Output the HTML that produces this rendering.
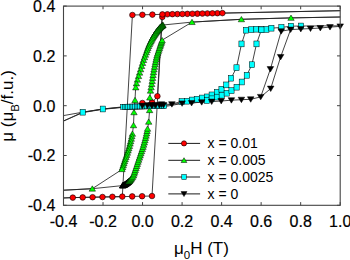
<!DOCTYPE html>
<html><head><meta charset="utf-8"><style>
html,body{margin:0;padding:0;background:#fff;width:350px;height:260px;overflow:hidden}
svg{display:block}
text{font-family:"Liberation Sans",sans-serif}
</style></head><body><svg width="350" height="260" viewBox="0 0 350 260"><defs><clipPath id="c"><rect x="63.5" y="6.1" width="276.7" height="199.20000000000002"/></clipPath></defs><g clip-path="url(#c)"><polyline points="345.00,10.60 222.40,13.11 217.40,13.21 212.40,13.32 207.40,13.43 202.40,13.53 197.40,13.63 192.40,13.74 187.40,13.85 182.40,13.95 177.40,14.05 172.40,14.16 167.40,14.27 162.40,14.37 152.40,14.58 142.40,14.79 132.40,15.00 122.30,196.61 112.40,196.81 102.50,197.01 92.60,197.20 82.70,197.40 72.80,197.60 60.00,198.10" fill="none" stroke="#222" stroke-width="0.85" stroke-linejoin="round"/><polyline points="60.00,198.10 72.80,197.60 82.70,197.40 92.60,197.20 102.50,197.01 112.40,196.81 122.30,196.61 132.20,196.41 142.10,196.21 152.00,196.02 162.40,14.37 167.40,14.27 172.40,14.16 177.40,14.05 182.40,13.95 187.40,13.85 192.40,13.74 197.40,13.63 202.40,13.53 207.40,13.43 212.40,13.32 217.40,13.21 222.40,13.11 345.00,10.60" fill="none" stroke="#222" stroke-width="0.85" stroke-linejoin="round"/><polyline points="142.40,103.00 152.20,102.60 157.40,96.20 162.20,14.60" fill="none" stroke="#222" stroke-width="0.85" stroke-linejoin="round"/><polyline points="345.00,16.90 340.20,17.00 291.00,17.90 241.40,19.30 192.00,22.10 163.00,25.00 160.40,27.00 156.00,32.30 152.50,38.00 149.00,45.00 147.30,49.60 143.50,60.00 139.70,72.30 136.60,82.50 135.60,88.50 135.00,100.20 134.00,112.30 133.50,125.30 132.40,133.80 131.00,140.00 129.00,147.70 127.00,154.00 124.80,160.40 121.90,169.50 92.30,188.70 60.00,190.40" fill="none" stroke="#222" stroke-width="0.85" stroke-linejoin="round"/><polyline points="60.00,190.40 92.30,188.70 122.50,185.60 125.00,184.40 128.00,182.20 130.50,179.80 133.30,176.00 136.00,168.00 138.50,160.40 142.80,147.70 145.00,140.00 146.50,134.00 147.80,127.50 148.70,121.80 149.60,110.20 149.80,97.60 150.50,90.70 151.80,83.50 153.50,72.00 155.50,62.00 157.00,55.50 158.80,50.20 160.50,45.00 162.20,40.10 192.00,22.10 241.40,19.30 291.00,17.90 340.20,17.00 345.00,16.90" fill="none" stroke="#222" stroke-width="0.85" stroke-linejoin="round"/><polyline points="60.00,116.20 82.70,112.20 102.80,109.00 123.30,106.80 125.00,106.77 126.70,106.73 128.40,106.70 130.10,106.66 131.80,106.63 133.50,106.60 135.20,106.56 136.90,106.53 138.60,106.49 140.30,106.46 142.00,106.43 143.70,106.39 145.40,106.36 147.10,106.32 148.80,106.29 150.50,106.26 152.20,106.22 153.90,106.19 155.60,106.15 157.30,106.12 159.00,106.09 160.70,106.05 162.40,106.02 164.10,105.98 181.70,101.50 186.90,101.20 192.00,100.00 196.80,99.20 202.00,98.00 206.90,96.90 211.70,94.90 216.90,92.30 221.50,89.20 226.30,84.90 231.10,78.20 236.50,67.70 241.50,43.90 246.00,30.20 251.40,29.60 256.40,29.20 261.40,29.60 266.40,29.40 271.40,28.20 281.40,27.40 291.00,26.20 301.00,26.00 345.00,25.80" fill="none" stroke="#222" stroke-width="0.85" stroke-linejoin="round"/><polyline points="60.00,122.60 82.70,112.60 102.80,109.30 120.50,107.60 165.00,106.50 182.00,103.50 192.00,102.50 201.00,101.30 206.90,100.50 211.70,98.80 216.90,97.10 221.70,95.20 226.70,93.20 231.50,90.60 236.60,87.20 241.80,82.00 246.80,75.30 251.90,64.70 256.50,43.90 261.40,29.80" fill="none" stroke="#222" stroke-width="0.85" stroke-linejoin="round"/><polyline points="60.00,122.60 82.70,112.20 102.80,109.00 122.60,107.20 142.40,105.70 152.20,105.30 161.50,104.30 171.90,104.20 182.10,103.40 191.60,103.00 201.70,102.20 211.70,101.60 221.20,101.00 231.40,100.20 241.40,99.70 250.70,99.30 260.70,96.90 270.40,69.10 281.20,31.20 290.60,29.60" fill="none" stroke="#222" stroke-width="0.85" stroke-linejoin="round"/><polyline points="260.70,96.90 270.70,88.60 280.60,57.00 290.60,29.60 300.80,29.00 310.50,28.60 320.30,28.00 330.00,27.10 340.20,26.40" fill="none" stroke="#222" stroke-width="0.85" stroke-linejoin="round"/></g><g><circle cx="162.30" cy="17.00" r="2.8" fill="#ff0000" stroke="#000" stroke-width="0.6"/><circle cx="167.40" cy="14.27" r="2.8" fill="#ff0000" stroke="#000" stroke-width="0.6"/><circle cx="177.40" cy="14.05" r="2.8" fill="#ff0000" stroke="#000" stroke-width="0.6"/><circle cx="187.40" cy="13.85" r="2.8" fill="#ff0000" stroke="#000" stroke-width="0.6"/><circle cx="197.40" cy="13.63" r="2.8" fill="#ff0000" stroke="#000" stroke-width="0.6"/><circle cx="207.40" cy="13.43" r="2.8" fill="#ff0000" stroke="#000" stroke-width="0.6"/><circle cx="217.40" cy="13.21" r="2.8" fill="#ff0000" stroke="#000" stroke-width="0.6"/><circle cx="132.40" cy="15.00" r="2.8" fill="#ff0000" stroke="#000" stroke-width="0.6"/><circle cx="142.40" cy="14.79" r="2.8" fill="#ff0000" stroke="#000" stroke-width="0.6"/><circle cx="152.40" cy="14.58" r="2.8" fill="#ff0000" stroke="#000" stroke-width="0.6"/><circle cx="162.40" cy="14.37" r="2.8" fill="#ff0000" stroke="#000" stroke-width="0.6"/><circle cx="172.40" cy="14.16" r="2.8" fill="#ff0000" stroke="#000" stroke-width="0.6"/><circle cx="182.40" cy="13.95" r="2.8" fill="#ff0000" stroke="#000" stroke-width="0.6"/><circle cx="192.40" cy="13.74" r="2.8" fill="#ff0000" stroke="#000" stroke-width="0.6"/><circle cx="202.40" cy="13.53" r="2.8" fill="#ff0000" stroke="#000" stroke-width="0.6"/><circle cx="212.40" cy="13.32" r="2.8" fill="#ff0000" stroke="#000" stroke-width="0.6"/><circle cx="222.40" cy="13.11" r="2.8" fill="#ff0000" stroke="#000" stroke-width="0.6"/><circle cx="72.80" cy="197.60" r="2.8" fill="#ff0000" stroke="#000" stroke-width="0.6"/><circle cx="82.70" cy="197.40" r="2.8" fill="#ff0000" stroke="#000" stroke-width="0.6"/><circle cx="92.60" cy="197.20" r="2.8" fill="#ff0000" stroke="#000" stroke-width="0.6"/><circle cx="102.50" cy="197.01" r="2.8" fill="#ff0000" stroke="#000" stroke-width="0.6"/><circle cx="112.40" cy="196.81" r="2.8" fill="#ff0000" stroke="#000" stroke-width="0.6"/><circle cx="122.30" cy="196.61" r="2.8" fill="#ff0000" stroke="#000" stroke-width="0.6"/><circle cx="132.20" cy="196.41" r="2.8" fill="#ff0000" stroke="#000" stroke-width="0.6"/><circle cx="142.10" cy="196.21" r="2.8" fill="#ff0000" stroke="#000" stroke-width="0.6"/><circle cx="152.00" cy="196.02" r="2.8" fill="#ff0000" stroke="#000" stroke-width="0.6"/><circle cx="142.40" cy="103.00" r="2.8" fill="#ff0000" stroke="#000" stroke-width="0.6"/><circle cx="152.20" cy="102.60" r="2.8" fill="#ff0000" stroke="#000" stroke-width="0.6"/><circle cx="157.40" cy="96.20" r="2.8" fill="#ff0000" stroke="#000" stroke-width="0.6"/><path d="M291.00,15.04L294.20,20.35L287.80,20.35Z" fill="#00ff00" stroke="#000" stroke-width="0.5"/><path d="M241.40,16.44L244.60,21.75L238.20,21.75Z" fill="#00ff00" stroke="#000" stroke-width="0.5"/><path d="M192.00,19.24L195.20,24.55L188.80,24.55Z" fill="#00ff00" stroke="#000" stroke-width="0.5"/><path d="M163.00,22.14L166.20,27.45L159.80,27.45Z" fill="#00ff00" stroke="#000" stroke-width="0.5"/><path d="M162.68,22.39L165.88,27.69L159.48,27.69Z" fill="#00ff00" stroke="#000" stroke-width="0.5"/><path d="M162.36,22.64L165.56,27.94L159.16,27.94Z" fill="#00ff00" stroke="#000" stroke-width="0.5"/><path d="M162.02,22.90L165.22,28.20L158.82,28.20Z" fill="#00ff00" stroke="#000" stroke-width="0.5"/><path d="M161.68,23.16L164.88,28.46L158.48,28.46Z" fill="#00ff00" stroke="#000" stroke-width="0.5"/><path d="M161.33,23.43L164.53,28.73L158.13,28.73Z" fill="#00ff00" stroke="#000" stroke-width="0.5"/><path d="M160.97,23.71L164.17,29.01L157.77,29.01Z" fill="#00ff00" stroke="#000" stroke-width="0.5"/><path d="M160.59,23.99L163.79,29.30L157.39,29.30Z" fill="#00ff00" stroke="#000" stroke-width="0.5"/><path d="M160.25,24.32L163.45,29.63L157.05,29.63Z" fill="#00ff00" stroke="#000" stroke-width="0.5"/><path d="M159.93,24.70L163.13,30.01L156.73,30.01Z" fill="#00ff00" stroke="#000" stroke-width="0.5"/><path d="M159.61,25.09L162.81,30.40L156.41,30.40Z" fill="#00ff00" stroke="#000" stroke-width="0.5"/><path d="M159.28,25.50L162.48,30.80L156.08,30.80Z" fill="#00ff00" stroke="#000" stroke-width="0.5"/><path d="M158.94,25.91L162.14,31.21L155.74,31.21Z" fill="#00ff00" stroke="#000" stroke-width="0.5"/><path d="M158.59,26.33L161.79,31.63L155.39,31.63Z" fill="#00ff00" stroke="#000" stroke-width="0.5"/><path d="M158.21,26.78L161.41,32.08L155.01,32.08Z" fill="#00ff00" stroke="#000" stroke-width="0.5"/><path d="M157.82,27.25L161.02,32.56L154.62,32.56Z" fill="#00ff00" stroke="#000" stroke-width="0.5"/><path d="M157.40,27.76L160.60,33.07L154.20,33.07Z" fill="#00ff00" stroke="#000" stroke-width="0.5"/><path d="M156.95,28.30L160.15,33.61L153.75,33.61Z" fill="#00ff00" stroke="#000" stroke-width="0.5"/><path d="M156.47,28.88L159.67,34.19L153.27,34.19Z" fill="#00ff00" stroke="#000" stroke-width="0.5"/><path d="M155.96,29.50L159.16,34.81L152.76,34.81Z" fill="#00ff00" stroke="#000" stroke-width="0.5"/><path d="M155.52,30.23L158.72,35.53L152.32,35.53Z" fill="#00ff00" stroke="#000" stroke-width="0.5"/><path d="M155.05,31.00L158.25,36.30L151.85,36.30Z" fill="#00ff00" stroke="#000" stroke-width="0.5"/><path d="M154.54,31.82L157.74,37.13L151.34,37.13Z" fill="#00ff00" stroke="#000" stroke-width="0.5"/><path d="M154.00,32.70L157.20,38.00L150.80,38.00Z" fill="#00ff00" stroke="#000" stroke-width="0.5"/><path d="M153.43,33.63L156.63,38.94L150.23,38.94Z" fill="#00ff00" stroke="#000" stroke-width="0.5"/><path d="M152.81,34.64L156.01,39.95L149.61,39.95Z" fill="#00ff00" stroke="#000" stroke-width="0.5"/><path d="M152.19,35.77L155.39,41.08L148.99,41.08Z" fill="#00ff00" stroke="#000" stroke-width="0.5"/><path d="M151.56,37.02L154.76,42.33L148.36,42.33Z" fill="#00ff00" stroke="#000" stroke-width="0.5"/><path d="M150.88,38.38L154.08,43.69L147.68,43.69Z" fill="#00ff00" stroke="#000" stroke-width="0.5"/><path d="M150.14,39.86L153.34,45.16L146.94,45.16Z" fill="#00ff00" stroke="#000" stroke-width="0.5"/><path d="M149.34,41.46L152.54,46.76L146.14,46.76Z" fill="#00ff00" stroke="#000" stroke-width="0.5"/><path d="M148.59,43.24L151.79,48.55L145.39,48.55Z" fill="#00ff00" stroke="#000" stroke-width="0.5"/><path d="M147.87,45.20L151.07,50.50L144.67,50.50Z" fill="#00ff00" stroke="#000" stroke-width="0.5"/><path d="M147.10,47.29L150.30,52.60L143.90,52.60Z" fill="#00ff00" stroke="#000" stroke-width="0.5"/><path d="M146.28,49.53L149.48,54.83L143.08,54.83Z" fill="#00ff00" stroke="#000" stroke-width="0.5"/><path d="M145.41,51.92L148.61,57.22L142.21,57.22Z" fill="#00ff00" stroke="#000" stroke-width="0.5"/><path d="M144.48,54.47L147.68,59.77L141.28,59.77Z" fill="#00ff00" stroke="#000" stroke-width="0.5"/><path d="M143.48,57.20L146.68,62.50L140.28,62.50Z" fill="#00ff00" stroke="#000" stroke-width="0.5"/><path d="M142.57,60.16L145.77,65.46L139.37,65.46Z" fill="#00ff00" stroke="#000" stroke-width="0.5"/><path d="M141.61,63.27L144.81,68.58L138.41,68.58Z" fill="#00ff00" stroke="#000" stroke-width="0.5"/><path d="M140.61,66.50L143.81,71.80L137.41,71.80Z" fill="#00ff00" stroke="#000" stroke-width="0.5"/><path d="M139.58,69.84L142.78,75.14L136.38,75.14Z" fill="#00ff00" stroke="#000" stroke-width="0.5"/><path d="M138.53,73.30L141.73,78.60L135.33,78.60Z" fill="#00ff00" stroke="#000" stroke-width="0.5"/><path d="M137.44,76.88L140.64,82.19L134.24,82.19Z" fill="#00ff00" stroke="#000" stroke-width="0.5"/><path d="M136.44,80.63L139.64,85.93L133.24,85.93Z" fill="#00ff00" stroke="#000" stroke-width="0.5"/><path d="M135.78,84.59L138.98,89.90L132.58,89.90Z" fill="#00ff00" stroke="#000" stroke-width="0.5"/><path d="M135.00,97.34L138.20,102.65L131.80,102.65Z" fill="#00ff00" stroke="#000" stroke-width="0.5"/><path d="M134.00,109.44L137.20,114.75L130.80,114.75Z" fill="#00ff00" stroke="#000" stroke-width="0.5"/><path d="M133.50,122.44L136.70,127.75L130.30,127.75Z" fill="#00ff00" stroke="#000" stroke-width="0.5"/><path d="M132.40,130.94L135.60,136.25L129.20,136.25Z" fill="#00ff00" stroke="#000" stroke-width="0.5"/><path d="M131.83,133.48L135.03,138.78L128.63,138.78Z" fill="#00ff00" stroke="#000" stroke-width="0.5"/><path d="M131.26,135.98L134.46,141.28L128.06,141.28Z" fill="#00ff00" stroke="#000" stroke-width="0.5"/><path d="M130.67,138.42L133.87,143.72L127.47,143.72Z" fill="#00ff00" stroke="#000" stroke-width="0.5"/><path d="M130.05,140.82L133.25,146.12L126.85,146.12Z" fill="#00ff00" stroke="#000" stroke-width="0.5"/><path d="M129.43,143.18L132.63,148.48L126.23,148.48Z" fill="#00ff00" stroke="#000" stroke-width="0.5"/><path d="M128.80,145.49L132.00,150.79L125.60,150.79Z" fill="#00ff00" stroke="#000" stroke-width="0.5"/><path d="M128.08,147.73L131.28,153.04L124.88,153.04Z" fill="#00ff00" stroke="#000" stroke-width="0.5"/><path d="M127.38,149.95L130.58,155.25L124.18,155.25Z" fill="#00ff00" stroke="#000" stroke-width="0.5"/><path d="M126.67,152.11L129.87,157.42L123.47,157.42Z" fill="#00ff00" stroke="#000" stroke-width="0.5"/><path d="M125.94,154.24L129.14,159.54L122.74,159.54Z" fill="#00ff00" stroke="#000" stroke-width="0.5"/><path d="M125.22,156.33L128.42,161.63L122.02,161.63Z" fill="#00ff00" stroke="#000" stroke-width="0.5"/><path d="M124.53,158.39L127.73,163.70L121.33,163.70Z" fill="#00ff00" stroke="#000" stroke-width="0.5"/><path d="M123.88,160.43L127.08,165.73L120.68,165.73Z" fill="#00ff00" stroke="#000" stroke-width="0.5"/><path d="M123.24,162.44L126.44,167.74L120.04,167.74Z" fill="#00ff00" stroke="#000" stroke-width="0.5"/><path d="M122.61,164.41L125.81,169.71L119.41,169.71Z" fill="#00ff00" stroke="#000" stroke-width="0.5"/><path d="M121.99,166.35L125.19,171.65L118.79,171.65Z" fill="#00ff00" stroke="#000" stroke-width="0.5"/><path d="M92.30,185.84L95.50,191.15L89.10,191.15Z" fill="#00ff00" stroke="#000" stroke-width="0.5"/><path d="M122.50,182.74L125.70,188.05L119.30,188.05Z" fill="#000" stroke="#000" stroke-width="0.5"/><path d="M122.73,182.64L125.93,187.94L119.53,187.94Z" fill="#000" stroke="#000" stroke-width="0.5"/><path d="M122.95,182.53L126.15,187.83L119.75,187.83Z" fill="#000" stroke="#000" stroke-width="0.5"/><path d="M123.18,182.42L126.38,187.72L119.98,187.72Z" fill="#000" stroke="#000" stroke-width="0.5"/><path d="M123.41,182.31L126.61,187.61L120.21,187.61Z" fill="#000" stroke="#000" stroke-width="0.5"/><path d="M123.64,182.20L126.84,187.50L120.44,187.50Z" fill="#000" stroke="#000" stroke-width="0.5"/><path d="M123.87,182.08L127.07,187.39L120.67,187.39Z" fill="#000" stroke="#000" stroke-width="0.5"/><path d="M124.11,181.97L127.31,187.28L120.91,187.28Z" fill="#000" stroke="#000" stroke-width="0.5"/><path d="M124.34,181.86L127.54,187.16L121.14,187.16Z" fill="#000" stroke="#000" stroke-width="0.5"/><path d="M124.58,181.75L127.78,187.05L121.38,187.05Z" fill="#000" stroke="#000" stroke-width="0.5"/><path d="M124.82,181.63L128.02,186.93L121.62,186.93Z" fill="#000" stroke="#000" stroke-width="0.5"/><path d="M125.05,181.50L128.25,186.81L121.85,186.81Z" fill="#000" stroke="#000" stroke-width="0.5"/><path d="M125.27,181.35L128.47,186.65L122.07,186.65Z" fill="#000" stroke="#000" stroke-width="0.5"/><path d="M125.49,181.19L128.69,186.49L122.29,186.49Z" fill="#000" stroke="#000" stroke-width="0.5"/><path d="M125.71,181.03L128.91,186.33L122.51,186.33Z" fill="#000" stroke="#000" stroke-width="0.5"/><path d="M125.93,180.86L129.13,186.17L122.73,186.17Z" fill="#000" stroke="#000" stroke-width="0.5"/><path d="M126.15,180.70L129.35,186.01L122.95,186.01Z" fill="#000" stroke="#000" stroke-width="0.5"/><path d="M126.37,180.54L129.57,185.84L123.17,185.84Z" fill="#000" stroke="#000" stroke-width="0.5"/><path d="M126.60,180.37L129.80,185.68L123.40,185.68Z" fill="#000" stroke="#000" stroke-width="0.5"/><path d="M126.82,180.21L130.02,185.51L123.62,185.51Z" fill="#0a3a0a" stroke="#000" stroke-width="0.5"/><path d="M127.05,180.04L130.25,185.34L123.85,185.34Z" fill="#0a3a0a" stroke="#000" stroke-width="0.5"/><path d="M127.28,179.87L130.48,185.18L124.08,185.18Z" fill="#0a3a0a" stroke="#000" stroke-width="0.5"/><path d="M127.51,179.70L130.71,185.01L124.31,185.01Z" fill="#0a3a0a" stroke="#000" stroke-width="0.5"/><path d="M127.74,179.53L130.94,184.84L124.54,184.84Z" fill="#0a3a0a" stroke="#000" stroke-width="0.5"/><path d="M127.97,179.36L131.17,184.67L124.77,184.67Z" fill="#0a3a0a" stroke="#000" stroke-width="0.5"/><path d="M128.19,179.16L131.39,184.47L124.99,184.47Z" fill="#0a3a0a" stroke="#000" stroke-width="0.5"/><path d="M128.40,178.96L131.60,184.27L125.20,184.27Z" fill="#0a3a0a" stroke="#000" stroke-width="0.5"/><path d="M128.61,178.76L131.81,184.06L125.41,184.06Z" fill="#0a3a0a" stroke="#000" stroke-width="0.5"/><path d="M128.83,178.55L132.03,183.86L125.63,183.86Z" fill="#0a3a0a" stroke="#000" stroke-width="0.5"/><path d="M129.04,178.34L132.24,183.65L125.84,183.65Z" fill="#00ff00" stroke="#000" stroke-width="0.5"/><path d="M129.28,178.12L132.48,183.42L126.08,183.42Z" fill="#00ff00" stroke="#000" stroke-width="0.5"/><path d="M129.58,177.83L132.78,183.13L126.38,183.13Z" fill="#00ff00" stroke="#000" stroke-width="0.5"/><path d="M129.97,177.45L133.17,182.76L126.77,182.76Z" fill="#00ff00" stroke="#000" stroke-width="0.5"/><path d="M130.47,176.97L133.67,182.27L127.27,182.27Z" fill="#00ff00" stroke="#000" stroke-width="0.5"/><path d="M131.01,176.25L134.21,181.56L127.81,181.56Z" fill="#00ff00" stroke="#000" stroke-width="0.5"/><path d="M131.69,175.32L134.89,180.63L128.49,180.63Z" fill="#00ff00" stroke="#000" stroke-width="0.5"/><path d="M132.57,174.13L135.77,179.43L129.37,179.43Z" fill="#00ff00" stroke="#000" stroke-width="0.5"/><path d="M133.49,172.59L136.69,177.89L130.29,177.89Z" fill="#00ff00" stroke="#000" stroke-width="0.5"/><path d="M134.09,170.82L137.29,176.12L130.89,176.12Z" fill="#00ff00" stroke="#000" stroke-width="0.5"/><path d="M134.70,168.99L137.90,174.30L131.50,174.30Z" fill="#00ff00" stroke="#000" stroke-width="0.5"/><path d="M135.33,167.11L138.53,172.42L132.13,172.42Z" fill="#00ff00" stroke="#000" stroke-width="0.5"/><path d="M135.99,165.18L139.19,170.48L132.79,170.48Z" fill="#00ff00" stroke="#000" stroke-width="0.5"/><path d="M136.65,163.18L139.85,168.48L133.45,168.48Z" fill="#00ff00" stroke="#000" stroke-width="0.5"/><path d="M137.33,161.11L140.53,166.42L134.13,166.42Z" fill="#00ff00" stroke="#000" stroke-width="0.5"/><path d="M138.01,159.02L141.21,164.32L134.81,164.32Z" fill="#00ff00" stroke="#000" stroke-width="0.5"/><path d="M138.71,156.91L141.91,162.22L135.51,162.22Z" fill="#00ff00" stroke="#000" stroke-width="0.5"/><path d="M139.43,154.80L142.63,160.11L136.23,160.11Z" fill="#00ff00" stroke="#000" stroke-width="0.5"/><path d="M140.15,152.68L143.35,157.99L136.95,157.99Z" fill="#00ff00" stroke="#000" stroke-width="0.5"/><path d="M140.87,150.55L144.07,155.85L137.67,155.85Z" fill="#00ff00" stroke="#000" stroke-width="0.5"/><path d="M141.59,148.41L144.79,153.71L138.39,153.71Z" fill="#00ff00" stroke="#000" stroke-width="0.5"/><path d="M142.32,146.25L145.52,151.55L139.12,151.55Z" fill="#00ff00" stroke="#000" stroke-width="0.5"/><path d="M143.02,144.07L146.22,149.38L139.82,149.38Z" fill="#00ff00" stroke="#000" stroke-width="0.5"/><path d="M143.65,141.86L146.85,147.17L140.45,147.17Z" fill="#00ff00" stroke="#000" stroke-width="0.5"/><path d="M144.29,139.64L147.49,144.95L141.09,144.95Z" fill="#00ff00" stroke="#000" stroke-width="0.5"/><path d="M144.92,137.41L148.12,142.72L141.72,142.72Z" fill="#00ff00" stroke="#000" stroke-width="0.5"/><path d="M145.50,135.15L148.70,140.45L142.30,140.45Z" fill="#00ff00" stroke="#000" stroke-width="0.5"/><path d="M146.07,132.88L149.27,138.18L142.87,138.18Z" fill="#00ff00" stroke="#000" stroke-width="0.5"/><path d="M146.61,130.58L149.81,135.89L143.41,135.89Z" fill="#00ff00" stroke="#000" stroke-width="0.5"/><path d="M147.08,128.26L150.28,133.56L143.88,133.56Z" fill="#00ff00" stroke="#000" stroke-width="0.5"/><path d="M147.54,125.92L150.74,131.23L144.34,131.23Z" fill="#00ff00" stroke="#000" stroke-width="0.5"/><path d="M148.70,118.94L151.90,124.25L145.50,124.25Z" fill="#00ff00" stroke="#000" stroke-width="0.5"/><path d="M149.60,107.34L152.80,112.65L146.40,112.65Z" fill="#00ff00" stroke="#000" stroke-width="0.5"/><path d="M149.80,94.74L153.00,100.05L146.60,100.05Z" fill="#00ff00" stroke="#000" stroke-width="0.5"/><path d="M150.50,87.84L153.70,93.15L147.30,93.15Z" fill="#00ff00" stroke="#000" stroke-width="0.5"/><path d="M151.10,84.50L154.30,89.80L147.90,89.80Z" fill="#00ff00" stroke="#000" stroke-width="0.5"/><path d="M151.69,81.27L154.89,86.57L148.49,86.57Z" fill="#00ff00" stroke="#000" stroke-width="0.5"/><path d="M152.17,78.13L155.37,83.44L148.97,83.44Z" fill="#00ff00" stroke="#000" stroke-width="0.5"/><path d="M152.62,75.10L155.82,80.41L149.42,80.41Z" fill="#00ff00" stroke="#000" stroke-width="0.5"/><path d="M153.05,72.17L156.25,77.48L149.85,77.48Z" fill="#00ff00" stroke="#000" stroke-width="0.5"/><path d="M153.47,69.35L156.67,74.65L150.27,74.65Z" fill="#00ff00" stroke="#000" stroke-width="0.5"/><path d="M154.00,66.64L157.20,71.94L150.80,71.94Z" fill="#00ff00" stroke="#000" stroke-width="0.5"/><path d="M154.52,64.02L157.72,69.33L151.32,69.33Z" fill="#00ff00" stroke="#000" stroke-width="0.5"/><path d="M155.03,61.51L158.23,66.81L151.83,66.81Z" fill="#00ff00" stroke="#000" stroke-width="0.5"/><path d="M155.51,59.10L158.71,64.40L152.31,64.40Z" fill="#00ff00" stroke="#000" stroke-width="0.5"/><path d="M156.04,56.81L159.24,62.12L152.84,62.12Z" fill="#00ff00" stroke="#000" stroke-width="0.5"/><path d="M156.54,54.63L159.74,59.93L153.34,59.93Z" fill="#00ff00" stroke="#000" stroke-width="0.5"/><path d="M157.04,52.54L160.24,57.84L153.84,57.84Z" fill="#00ff00" stroke="#000" stroke-width="0.5"/><path d="M157.70,50.60L160.90,55.90L154.50,55.90Z" fill="#00ff00" stroke="#000" stroke-width="0.5"/><path d="M158.33,48.74L161.53,54.04L155.13,54.04Z" fill="#00ff00" stroke="#000" stroke-width="0.5"/><path d="M158.93,46.96L162.13,52.26L155.73,52.26Z" fill="#00ff00" stroke="#000" stroke-width="0.5"/><path d="M159.48,45.25L162.68,50.56L156.28,50.56Z" fill="#00ff00" stroke="#000" stroke-width="0.5"/><path d="M160.03,43.60L163.23,48.90L156.83,48.90Z" fill="#00ff00" stroke="#000" stroke-width="0.5"/><path d="M160.55,41.99L163.75,47.29L157.35,47.29Z" fill="#00ff00" stroke="#000" stroke-width="0.5"/><path d="M161.09,40.43L164.29,45.74L157.89,45.74Z" fill="#00ff00" stroke="#000" stroke-width="0.5"/><path d="M161.62,38.93L164.82,44.23L158.42,44.23Z" fill="#00ff00" stroke="#000" stroke-width="0.5"/><path d="M162.13,37.46L165.33,42.76L158.93,42.76Z" fill="#00ff00" stroke="#000" stroke-width="0.5"/><rect x="80.10" y="109.29" width="5.21" height="5.82" fill="#00ffff" stroke="#000" stroke-width="0.5"/><rect x="100.20" y="106.09" width="5.21" height="5.82" fill="#00ffff" stroke="#000" stroke-width="0.5"/><rect x="120.70" y="104.30" width="5.21" height="5.00" fill="#00ffff" stroke="#000" stroke-width="0.5"/><rect x="122.40" y="104.27" width="5.21" height="5.00" fill="#00ffff" stroke="#000" stroke-width="0.5"/><rect x="124.10" y="104.23" width="5.21" height="5.00" fill="#00ffff" stroke="#000" stroke-width="0.5"/><rect x="125.80" y="104.20" width="5.21" height="5.00" fill="#00ffff" stroke="#000" stroke-width="0.5"/><rect x="127.50" y="104.16" width="5.21" height="5.00" fill="#00ffff" stroke="#000" stroke-width="0.5"/><rect x="129.20" y="104.13" width="5.21" height="5.00" fill="#00ffff" stroke="#000" stroke-width="0.5"/><rect x="130.90" y="104.10" width="5.21" height="5.00" fill="#00ffff" stroke="#000" stroke-width="0.5"/><rect x="132.60" y="104.06" width="5.21" height="5.00" fill="#00ffff" stroke="#000" stroke-width="0.5"/><rect x="134.30" y="104.03" width="5.21" height="5.00" fill="#00ffff" stroke="#000" stroke-width="0.5"/><rect x="136.00" y="103.99" width="5.21" height="5.00" fill="#00ffff" stroke="#000" stroke-width="0.5"/><rect x="137.70" y="103.96" width="5.21" height="5.00" fill="#00ffff" stroke="#000" stroke-width="0.5"/><rect x="139.40" y="103.93" width="5.21" height="5.00" fill="#00ffff" stroke="#000" stroke-width="0.5"/><rect x="141.10" y="103.89" width="5.21" height="5.00" fill="#00ffff" stroke="#000" stroke-width="0.5"/><rect x="142.80" y="103.86" width="5.21" height="5.00" fill="#00ffff" stroke="#000" stroke-width="0.5"/><rect x="144.50" y="103.82" width="5.21" height="5.00" fill="#00ffff" stroke="#000" stroke-width="0.5"/><rect x="146.20" y="103.79" width="5.21" height="5.00" fill="#00ffff" stroke="#000" stroke-width="0.5"/><rect x="147.90" y="103.76" width="5.21" height="5.00" fill="#00ffff" stroke="#000" stroke-width="0.5"/><rect x="149.60" y="103.72" width="5.21" height="5.00" fill="#00ffff" stroke="#000" stroke-width="0.5"/><rect x="151.30" y="103.69" width="5.21" height="5.00" fill="#00ffff" stroke="#000" stroke-width="0.5"/><rect x="153.00" y="103.65" width="5.21" height="5.00" fill="#00ffff" stroke="#000" stroke-width="0.5"/><rect x="154.70" y="103.62" width="5.21" height="5.00" fill="#00ffff" stroke="#000" stroke-width="0.5"/><rect x="156.40" y="103.59" width="5.21" height="5.00" fill="#00ffff" stroke="#000" stroke-width="0.5"/><rect x="158.10" y="103.55" width="5.21" height="5.00" fill="#00ffff" stroke="#000" stroke-width="0.5"/><rect x="159.80" y="103.52" width="5.21" height="5.00" fill="#00ffff" stroke="#000" stroke-width="0.5"/><rect x="161.50" y="103.48" width="5.21" height="5.00" fill="#00ffff" stroke="#000" stroke-width="0.5"/><rect x="179.10" y="98.59" width="5.21" height="5.82" fill="#00ffff" stroke="#000" stroke-width="0.5"/><rect x="184.30" y="98.29" width="5.21" height="5.82" fill="#00ffff" stroke="#000" stroke-width="0.5"/><rect x="189.40" y="97.09" width="5.21" height="5.82" fill="#00ffff" stroke="#000" stroke-width="0.5"/><rect x="194.20" y="96.29" width="5.21" height="5.82" fill="#00ffff" stroke="#000" stroke-width="0.5"/><rect x="199.40" y="95.09" width="5.21" height="5.82" fill="#00ffff" stroke="#000" stroke-width="0.5"/><rect x="204.30" y="93.99" width="5.21" height="5.82" fill="#00ffff" stroke="#000" stroke-width="0.5"/><rect x="209.10" y="91.99" width="5.21" height="5.82" fill="#00ffff" stroke="#000" stroke-width="0.5"/><rect x="214.30" y="89.39" width="5.21" height="5.82" fill="#00ffff" stroke="#000" stroke-width="0.5"/><rect x="218.90" y="86.29" width="5.21" height="5.82" fill="#00ffff" stroke="#000" stroke-width="0.5"/><rect x="223.70" y="81.99" width="5.21" height="5.82" fill="#00ffff" stroke="#000" stroke-width="0.5"/><rect x="228.50" y="75.29" width="5.21" height="5.82" fill="#00ffff" stroke="#000" stroke-width="0.5"/><rect x="233.90" y="64.79" width="5.21" height="5.82" fill="#00ffff" stroke="#000" stroke-width="0.5"/><rect x="238.90" y="40.99" width="5.21" height="5.82" fill="#00ffff" stroke="#000" stroke-width="0.5"/><rect x="243.40" y="27.29" width="5.21" height="5.82" fill="#00ffff" stroke="#000" stroke-width="0.5"/><rect x="248.80" y="26.69" width="5.21" height="5.82" fill="#00ffff" stroke="#000" stroke-width="0.5"/><rect x="253.80" y="26.29" width="5.21" height="5.82" fill="#00ffff" stroke="#000" stroke-width="0.5"/><rect x="258.80" y="26.69" width="5.21" height="5.82" fill="#00ffff" stroke="#000" stroke-width="0.5"/><rect x="263.80" y="26.49" width="5.21" height="5.82" fill="#00ffff" stroke="#000" stroke-width="0.5"/><rect x="268.80" y="25.29" width="5.21" height="5.82" fill="#00ffff" stroke="#000" stroke-width="0.5"/><rect x="278.80" y="24.49" width="5.21" height="5.82" fill="#00ffff" stroke="#000" stroke-width="0.5"/><rect x="288.40" y="23.29" width="5.21" height="5.82" fill="#00ffff" stroke="#000" stroke-width="0.5"/><rect x="298.40" y="23.09" width="5.21" height="5.82" fill="#00ffff" stroke="#000" stroke-width="0.5"/><rect x="204.30" y="97.59" width="5.21" height="5.82" fill="#00ffff" stroke="#000" stroke-width="0.5"/><rect x="209.10" y="95.89" width="5.21" height="5.82" fill="#00ffff" stroke="#000" stroke-width="0.5"/><rect x="214.30" y="94.19" width="5.21" height="5.82" fill="#00ffff" stroke="#000" stroke-width="0.5"/><rect x="219.10" y="92.29" width="5.21" height="5.82" fill="#00ffff" stroke="#000" stroke-width="0.5"/><rect x="224.10" y="90.29" width="5.21" height="5.82" fill="#00ffff" stroke="#000" stroke-width="0.5"/><rect x="228.90" y="87.69" width="5.21" height="5.82" fill="#00ffff" stroke="#000" stroke-width="0.5"/><rect x="234.00" y="84.29" width="5.21" height="5.82" fill="#00ffff" stroke="#000" stroke-width="0.5"/><rect x="239.20" y="79.09" width="5.21" height="5.82" fill="#00ffff" stroke="#000" stroke-width="0.5"/><rect x="244.20" y="72.39" width="5.21" height="5.82" fill="#00ffff" stroke="#000" stroke-width="0.5"/><rect x="249.30" y="61.79" width="5.21" height="5.82" fill="#00ffff" stroke="#000" stroke-width="0.5"/><rect x="253.90" y="40.99" width="5.21" height="5.82" fill="#00ffff" stroke="#000" stroke-width="0.5"/><rect x="258.80" y="26.89" width="5.21" height="5.82" fill="#00ffff" stroke="#000" stroke-width="0.5"/><path d="M144.20,102.98L150.80,102.98L147.50,108.45Z" fill="#000" stroke="#000" stroke-width="0.5"/><path d="M148.20,102.86L154.80,102.86L151.50,108.33Z" fill="#000" stroke="#000" stroke-width="0.5"/><path d="M152.20,102.74L158.80,102.74L155.50,108.21Z" fill="#000" stroke="#000" stroke-width="0.5"/><path d="M156.20,102.62L162.80,102.62L159.50,108.09Z" fill="#000" stroke="#000" stroke-width="0.5"/><path d="M160.20,102.50L166.80,102.50L163.50,107.97Z" fill="#000" stroke="#000" stroke-width="0.5"/><path d="M139.10,103.18L145.70,103.18L142.40,108.65Z" fill="#000" stroke="#000" stroke-width="0.5"/><path d="M148.90,102.78L155.50,102.78L152.20,108.25Z" fill="#000" stroke="#000" stroke-width="0.5"/><path d="M158.20,101.78L164.80,101.78L161.50,107.25Z" fill="#000" stroke="#000" stroke-width="0.5"/><path d="M168.60,101.68L175.20,101.68L171.90,107.15Z" fill="#000" stroke="#000" stroke-width="0.5"/><path d="M178.80,100.88L185.40,100.88L182.10,106.35Z" fill="#000" stroke="#000" stroke-width="0.5"/><path d="M188.30,100.48L194.90,100.48L191.60,105.95Z" fill="#000" stroke="#000" stroke-width="0.5"/><path d="M198.40,99.68L205.00,99.68L201.70,105.15Z" fill="#000" stroke="#000" stroke-width="0.5"/><path d="M208.40,99.08L215.00,99.08L211.70,104.55Z" fill="#000" stroke="#000" stroke-width="0.5"/><path d="M217.90,98.48L224.50,98.48L221.20,103.95Z" fill="#000" stroke="#000" stroke-width="0.5"/><path d="M228.10,97.68L234.70,97.68L231.40,103.15Z" fill="#000" stroke="#000" stroke-width="0.5"/><path d="M238.10,97.18L244.70,97.18L241.40,102.65Z" fill="#000" stroke="#000" stroke-width="0.5"/><path d="M247.40,96.78L254.00,96.78L250.70,102.25Z" fill="#000" stroke="#000" stroke-width="0.5"/><path d="M257.40,94.38L264.00,94.38L260.70,99.85Z" fill="#000" stroke="#000" stroke-width="0.5"/><path d="M267.10,66.58L273.70,66.58L270.40,72.05Z" fill="#000" stroke="#000" stroke-width="0.5"/><path d="M277.90,28.68L284.50,28.68L281.20,34.15Z" fill="#000" stroke="#000" stroke-width="0.5"/><path d="M267.40,86.08L274.00,86.08L270.70,91.55Z" fill="#000" stroke="#000" stroke-width="0.5"/><path d="M277.30,54.48L283.90,54.48L280.60,59.95Z" fill="#000" stroke="#000" stroke-width="0.5"/><path d="M287.30,27.08L293.90,27.08L290.60,32.55Z" fill="#000" stroke="#000" stroke-width="0.5"/><path d="M297.50,26.48L304.10,26.48L300.80,31.95Z" fill="#000" stroke="#000" stroke-width="0.5"/><path d="M307.20,26.08L313.80,26.08L310.50,31.55Z" fill="#000" stroke="#000" stroke-width="0.5"/><path d="M317.00,25.48L323.60,25.48L320.30,30.95Z" fill="#000" stroke="#000" stroke-width="0.5"/><path d="M326.70,24.58L333.30,24.58L330.00,30.05Z" fill="#000" stroke="#000" stroke-width="0.5"/><path d="M336.90,23.88L343.50,23.88L340.20,29.35Z" fill="#000" stroke="#000" stroke-width="0.5"/></g><rect x="63.5" y="6.1" width="276.70" height="199.20" fill="none" stroke="#444" stroke-width="1.1"/><line x1="63.50" y1="205.3" x2="63.50" y2="202.10000000000002" stroke="#444" stroke-width="1"/><line x1="63.50" y1="6.1" x2="63.50" y2="9.3" stroke="#444" stroke-width="1"/><line x1="103.03" y1="205.3" x2="103.03" y2="202.10000000000002" stroke="#444" stroke-width="1"/><line x1="103.03" y1="6.1" x2="103.03" y2="9.3" stroke="#444" stroke-width="1"/><line x1="142.56" y1="205.3" x2="142.56" y2="202.10000000000002" stroke="#444" stroke-width="1"/><line x1="142.56" y1="6.1" x2="142.56" y2="9.3" stroke="#444" stroke-width="1"/><line x1="182.09" y1="205.3" x2="182.09" y2="202.10000000000002" stroke="#444" stroke-width="1"/><line x1="182.09" y1="6.1" x2="182.09" y2="9.3" stroke="#444" stroke-width="1"/><line x1="221.61" y1="205.3" x2="221.61" y2="202.10000000000002" stroke="#444" stroke-width="1"/><line x1="221.61" y1="6.1" x2="221.61" y2="9.3" stroke="#444" stroke-width="1"/><line x1="261.14" y1="205.3" x2="261.14" y2="202.10000000000002" stroke="#444" stroke-width="1"/><line x1="261.14" y1="6.1" x2="261.14" y2="9.3" stroke="#444" stroke-width="1"/><line x1="300.67" y1="205.3" x2="300.67" y2="202.10000000000002" stroke="#444" stroke-width="1"/><line x1="300.67" y1="6.1" x2="300.67" y2="9.3" stroke="#444" stroke-width="1"/><line x1="340.20" y1="205.3" x2="340.20" y2="202.10000000000002" stroke="#444" stroke-width="1"/><line x1="340.20" y1="6.1" x2="340.20" y2="9.3" stroke="#444" stroke-width="1"/><line x1="63.5" y1="205.30" x2="66.7" y2="205.30" stroke="#444" stroke-width="1"/><line x1="340.2" y1="205.30" x2="337.0" y2="205.30" stroke="#444" stroke-width="1"/><line x1="63.5" y1="155.50" x2="66.7" y2="155.50" stroke="#444" stroke-width="1"/><line x1="340.2" y1="155.50" x2="337.0" y2="155.50" stroke="#444" stroke-width="1"/><line x1="63.5" y1="105.70" x2="66.7" y2="105.70" stroke="#444" stroke-width="1"/><line x1="340.2" y1="105.70" x2="337.0" y2="105.70" stroke="#444" stroke-width="1"/><line x1="63.5" y1="55.90" x2="66.7" y2="55.90" stroke="#444" stroke-width="1"/><line x1="340.2" y1="55.90" x2="337.0" y2="55.90" stroke="#444" stroke-width="1"/><line x1="63.5" y1="6.10" x2="66.7" y2="6.10" stroke="#444" stroke-width="1"/><line x1="340.2" y1="6.10" x2="337.0" y2="6.10" stroke="#444" stroke-width="1"/><g font-family="Liberation Sans, sans-serif" font-size="16" fill="#000"><text x="63.50" y="227" text-anchor="middle" stroke="#000" stroke-width="0.2">-0.4</text><text x="103.03" y="227" text-anchor="middle" stroke="#000" stroke-width="0.2">-0.2</text><text x="142.56" y="227" text-anchor="middle" stroke="#000" stroke-width="0.2">0.0</text><text x="182.09" y="227" text-anchor="middle" stroke="#000" stroke-width="0.2">0.2</text><text x="221.61" y="227" text-anchor="middle" stroke="#000" stroke-width="0.2">0.4</text><text x="261.14" y="227" text-anchor="middle" stroke="#000" stroke-width="0.2">0.6</text><text x="300.67" y="227" text-anchor="middle" stroke="#000" stroke-width="0.2">0.8</text><text x="340.20" y="227" text-anchor="middle" stroke="#000" stroke-width="0.2">1.0</text><text x="55.3" y="211.10" text-anchor="end" stroke="#000" stroke-width="0.2">-0.4</text><text x="55.3" y="161.30" text-anchor="end" stroke="#000" stroke-width="0.2">-0.2</text><text x="55.3" y="111.50" text-anchor="end" stroke="#000" stroke-width="0.2">0.0</text><text x="55.3" y="61.70" text-anchor="end" stroke="#000" stroke-width="0.2">0.2</text><text x="55.3" y="11.90" text-anchor="end" stroke="#000" stroke-width="0.2">0.4</text><text x="174" y="254" font-size="17">&#956;<tspan font-size="11.5" dy="5">0</tspan><tspan dy="-5">H (T)</tspan></text><text transform="translate(12.5,141.8) rotate(-90)" font-size="17">&#956; (&#956;<tspan font-size="11.5" dy="6">B</tspan><tspan dy="-6">/f.u.)</tspan></text></g><line x1="168.3" y1="143.4" x2="200.1" y2="143.4" stroke="#000" stroke-width="0.9"/><circle cx="184.00" cy="143.40" r="2.6" fill="#ff0000" stroke="#000" stroke-width="0.6"/><text x="207.5" y="148.0" font-family="Liberation Sans, sans-serif" font-size="14">x = 0.01</text><line x1="168.3" y1="160.3" x2="200.1" y2="160.3" stroke="#000" stroke-width="0.9"/><path d="M184.00,157.71L186.90,162.52L181.10,162.52Z" fill="#00ff00" stroke="#000" stroke-width="0.5"/><text x="207.5" y="164.9" font-family="Liberation Sans, sans-serif" font-size="14">x = 0.005</text><line x1="168.3" y1="177.0" x2="200.1" y2="177.0" stroke="#000" stroke-width="0.9"/><rect x="181.77" y="174.50" width="4.46" height="4.99" fill="#00ffff" stroke="#000" stroke-width="0.5"/><text x="207.5" y="181.6" font-family="Liberation Sans, sans-serif" font-size="14">x = 0.0025</text><line x1="168.3" y1="193.9" x2="200.1" y2="193.9" stroke="#000" stroke-width="0.9"/><path d="M181.00,191.61L187.00,191.61L184.00,196.58Z" fill="#000" stroke="#000" stroke-width="0.5"/><text x="207.5" y="198.5" font-family="Liberation Sans, sans-serif" font-size="14">x = 0</text></svg></body></html>
